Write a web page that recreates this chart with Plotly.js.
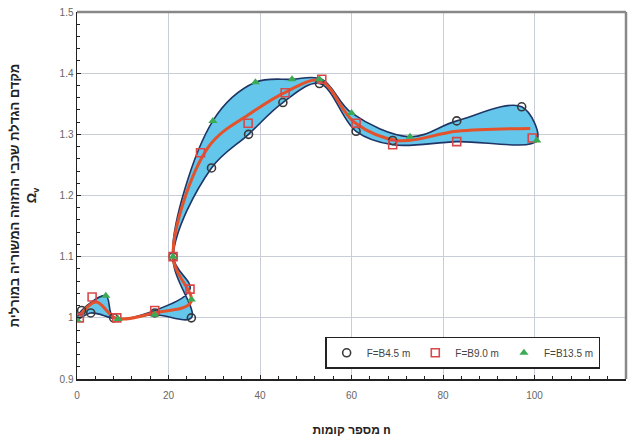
<!DOCTYPE html>
<html>
<head>
<meta charset="utf-8">
<script src="https://cdn.plot.ly/plotly-3.0.1.min.js"></script>
<style>html,body{margin:0;padding:0;background:#fff;}#chart{width:634px;height:441px;}</style>
</head>
<body>
<div id="chart"></div>
<script>
// Series: F=B4.5 m (circles)
const xB45 = [1, 3, 8, 17, 25, 21, 29.4, 37.5, 45, 53, 61, 69, 83, 97.2];
const yB45 = [1.012, 1.008, 1.0, 1.008, 1.0, 1.10, 1.245, 1.300, 1.352, 1.383, 1.305, 1.290, 1.322, 1.345];
// Series: F=B9.0 m (squares)
const xB90 = [0.5, 3.3, 8.7, 17, 24.7, 21, 27, 37.4, 45.5, 53.5, 61, 69, 83, 99.5];
const yB90 = [1.0, 1.034, 1.0, 1.012, 1.047, 1.10, 1.270, 1.318, 1.368, 1.390, 1.318, 1.283, 1.288, 1.294];
// Series: F=B13.5 m (triangles)
const xB135 = [0, 6.3, 9, 17, 25, 21, 29.7, 39, 47, 53, 60, 72.8, null, 100.5];
const yB135 = [0.997, 1.036, 0.998, 1.005, 1.030, 1.10, 1.322, 1.385, 1.390, 1.390, 1.335, 1.296, null, 1.290];

const names = ['F=B4.5 m', 'F=B9.0 m', 'F=B13.5 m'];
const xTicks = [0, 20, 40, 60, 80, 100, 120];
const yTicks = [0.9, 1.0, 1.1, 1.2, 1.3, 1.4, 1.5];

const xs = [xB45, xB90, xB135];
const ys = [yB45, yB90, yB135];

// envelope (max / min) and mean of the three series at each station
const upX = [], upY = [], loX = [], loY = [], mX = [], mY = [];
for (let i = 0; i < yB45.length; i++) {
  let best = null, worst = null, sx = 0, sy = 0, n = 0;
  for (let s = 0; s < 3; s++) {
    const y = ys[s][i], x = xs[s][i];
    if (y === null) continue;
    if (!best || y > best[1]) best = [x, y];
    if (!worst || y < worst[1]) worst = [x, y];
    sx += x; sy += y; n++;
  }
  upX.push(best[0]); upY.push(best[1]);
  loX.push(worst[0]); loY.push(worst[1]);
  mX.push(sx / n); mY.push(sy / n);
}
const envX = upX.concat(loX.slice().reverse()).concat([upX[0]]);
const envY = upY.concat(loY.slice().reverse()).concat([upY[0]]);

const traces = [
  {x: envX, y: envY, type: 'scatter', mode: 'lines', fill: 'toself',
   fillcolor: '#63c6ea', line: {color: '#1f3566', width: 1.6, shape: 'spline', smoothing: 1},
   showlegend: false, hoverinfo: 'skip'},
  {x: mX, y: mY, type: 'scatter', mode: 'lines',
   line: {color: '#e4522b', width: 3, shape: 'spline', smoothing: 1}, showlegend: false},
  {x: xB45, y: yB45, name: names[0], type: 'scatter', mode: 'markers',
   marker: {symbol: 'circle-open', size: 8, color: '#3a3a3a', line: {width: 1.6, color: '#3a3a3a'}}},
  {x: xB90, y: yB90, name: names[1], type: 'scatter', mode: 'markers',
   marker: {symbol: 'square-open', size: 8, color: '#d94848', line: {width: 1.6, color: '#d94848'}}},
  {x: xB135, y: yB135, name: names[2], type: 'scatter', mode: 'markers',
   marker: {symbol: 'triangle-up', size: 8, color: '#3aaa55', line: {width: 0}}}
];

const layout = {
  width: 634, height: 441,
  margin: {l: 77, r: 8, t: 12, b: 62},
  paper_bgcolor: '#ffffff', plot_bgcolor: '#ffffff',
  font: {family: 'Liberation Sans, Arial, sans-serif', color: '#555'},
  xaxis: {
    range: [0, 120], tickvals: xTicks, ticktext: xTicks.map(String),
    showgrid: true, gridcolor: '#c9cdd8', gridwidth: 1, zeroline: false,
    showline: true, linecolor: '#222', linewidth: 1.5,
    ticks: 'inside', ticklen: 4, tickcolor: '#222', ticklabelstandoff: 6,
    minor: {dtick: 4, ticks: 'inside', ticklen: 3, tickcolor: '#222', showgrid: false},
    tickfont: {size: 10, color: '#666'},
    title: {text: 'מספר קומות n', font: {size: 12, color: '#222', weight: 'bold'}, standoff: 26}
  },
  yaxis: {
    range: [0.9, 1.5], tickvals: yTicks, ticktext: yTicks.map(v => String(+v.toFixed(1))),
    showgrid: true, gridcolor: '#c9cdd8', gridwidth: 1, zeroline: false,
    showline: true, linecolor: '#222', linewidth: 1.5,
    ticks: 'inside', ticklen: 4, tickcolor: '#222',
    minor: {dtick: 0.02, ticks: 'inside', ticklen: 3, tickcolor: '#222', showgrid: false},
    tickfont: {size: 10, color: '#666'},
    title: {text: 'מקדם הגדלת שכבי התזוזה המשוריה במורלית<br>Ω<sub>v</sub>', font: {size: 13, color: '#222', weight: 'bold'}, standoff: 20}
  },
  shapes: [
    {type: 'line', xref: 'paper', yref: 'paper', x0: 1, x1: 1, y0: 0, y1: 1, line: {color: '#888', width: 2.5}},
    {type: 'line', xref: 'paper', yref: 'paper', x0: 0, x1: 1, y0: 1, y1: 1, line: {color: '#888', width: 2.5}}
  ],
  legend: {
    orientation: 'h', x: 0.452, y: 0.115, xanchor: 'left', yanchor: 'top',
    bgcolor: '#ffffff', bordercolor: '#222', borderwidth: 1.5,
    font: {size: 10, color: '#444'}, itemwidth: 30, tracegroupgap: 0
  },
  showlegend: true
};

Plotly.newPlot('chart', traces, layout, {displayModeBar: false, staticPlot: true});
</script>
</body>
</html>
